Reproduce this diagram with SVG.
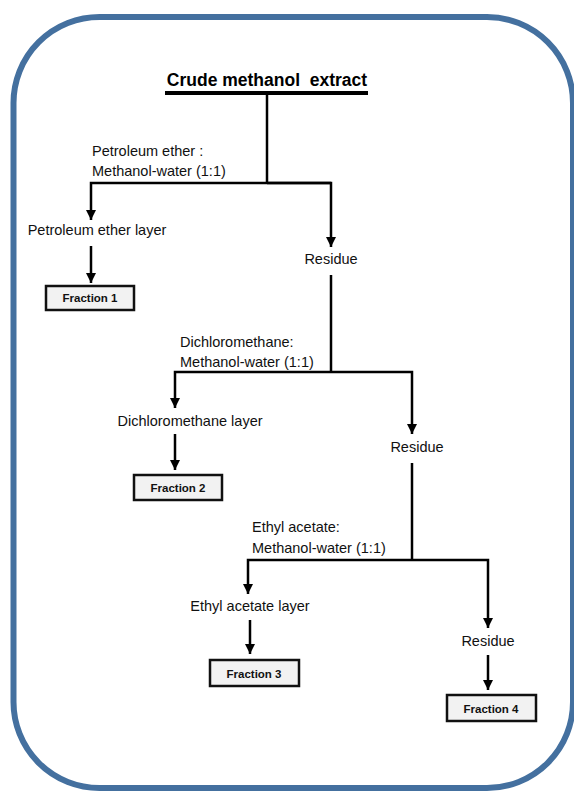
<svg xmlns="http://www.w3.org/2000/svg" width="574" height="791" viewBox="0 0 574 791">
<defs>
<marker id="ah" viewBox="0 0 10 10" refX="10" refY="5" markerWidth="4" markerHeight="4" orient="auto" markerUnits="strokeWidth">
<path d="M0,0 L10,5 L0,10 Z" fill="#000"/>
</marker>
<style>
.t{font-family:"Liberation Sans",Arial,sans-serif;font-size:14.5px;fill:#111}
.b{font-family:"Liberation Sans",Arial,sans-serif;font-size:11.5px;font-weight:bold;fill:#111;text-anchor:middle}
.box{fill:#f2f2f2;stroke:#111;stroke-width:2.5}
.ln{fill:none;stroke:#000;stroke-width:2.5}
.ar{fill:none;stroke:#000;stroke-width:2.5;marker-end:url(#ah)}
</style>
</defs>
<rect x="13.5" y="17" width="559.5" height="771" rx="86" ry="86" fill="#fff" stroke="#44709f" stroke-width="6"/>
<g id="connectors">
<line class="ln" x1="165" y1="93" x2="368" y2="93" style="stroke-width:4"/>
<polyline class="ln" points="267,93 267,183"/>
<polyline class="ar" points="331,183 91,183 91,220"/>
<polyline class="ar" points="267,183 331,183 331,247"/>
<line class="ar" x1="91" y1="246" x2="91" y2="283"/>
<polyline class="ln" points="331,275 331,372"/>
<polyline class="ar" points="331,372 175,372 175,408"/>
<polyline class="ar" points="331,372 412,372 412,434"/>
<line class="ar" x1="175" y1="434" x2="175" y2="470"/>
<polyline class="ln" points="412,463 412,560"/>
<polyline class="ar" points="412,560 248,560 248,594"/>
<polyline class="ar" points="412,560 488,560 488,628"/>
<line class="ar" x1="250" y1="620" x2="250" y2="654"/>
<line class="ar" x1="488" y1="655" x2="488" y2="690"/>
</g>
<g id="crude"><text x="267" y="86" text-anchor="middle" xml:space="preserve" style="font-family:'Liberation Sans',Arial,sans-serif;font-size:17.5px;font-weight:bold;fill:#000;white-space:pre">Crude methanol  extract</text></g>
<g id="solvent1"><text class="t" x="92" y="156">Petroleum ether :</text><text class="t" x="92" y="176">Methanol-water (1:1)</text></g>
<g id="pe-layer"><text class="t" x="97" y="235" text-anchor="middle">Petroleum ether layer</text></g>
<g id="fraction1"><rect class="box" x="46" y="286" width="88" height="24"/><text class="b" x="90" y="302">Fraction 1</text></g>
<g id="residue1"><text class="t" x="331" y="264" text-anchor="middle">Residue</text></g>
<g id="solvent2"><text class="t" x="180" y="347">Dichloromethane:</text><text class="t" x="180" y="367">Methanol-water (1:1)</text></g>
<g id="dcm-layer"><text class="t" x="190" y="426" text-anchor="middle">Dichloromethane layer</text></g>
<g id="fraction2"><rect class="box" x="134" y="475" width="88" height="25"/><text class="b" x="178" y="492">Fraction 2</text></g>
<g id="residue2"><text class="t" x="417" y="452" text-anchor="middle">Residue</text></g>
<g id="solvent3"><text class="t" x="252" y="532">Ethyl acetate:</text><text class="t" x="252" y="553">Methanol-water (1:1)</text></g>
<g id="ea-layer"><text class="t" x="250" y="611" text-anchor="middle">Ethyl acetate layer</text></g>
<g id="fraction3"><rect class="box" x="210" y="660" width="89" height="26"/><text class="b" x="254" y="678">Fraction 3</text></g>
<g id="residue3"><text class="t" x="488" y="646" text-anchor="middle">Residue</text></g>
<g id="fraction4"><rect class="box" x="447" y="695" width="89" height="26"/><text class="b" x="491" y="713">Fraction 4</text></g>
</svg>
